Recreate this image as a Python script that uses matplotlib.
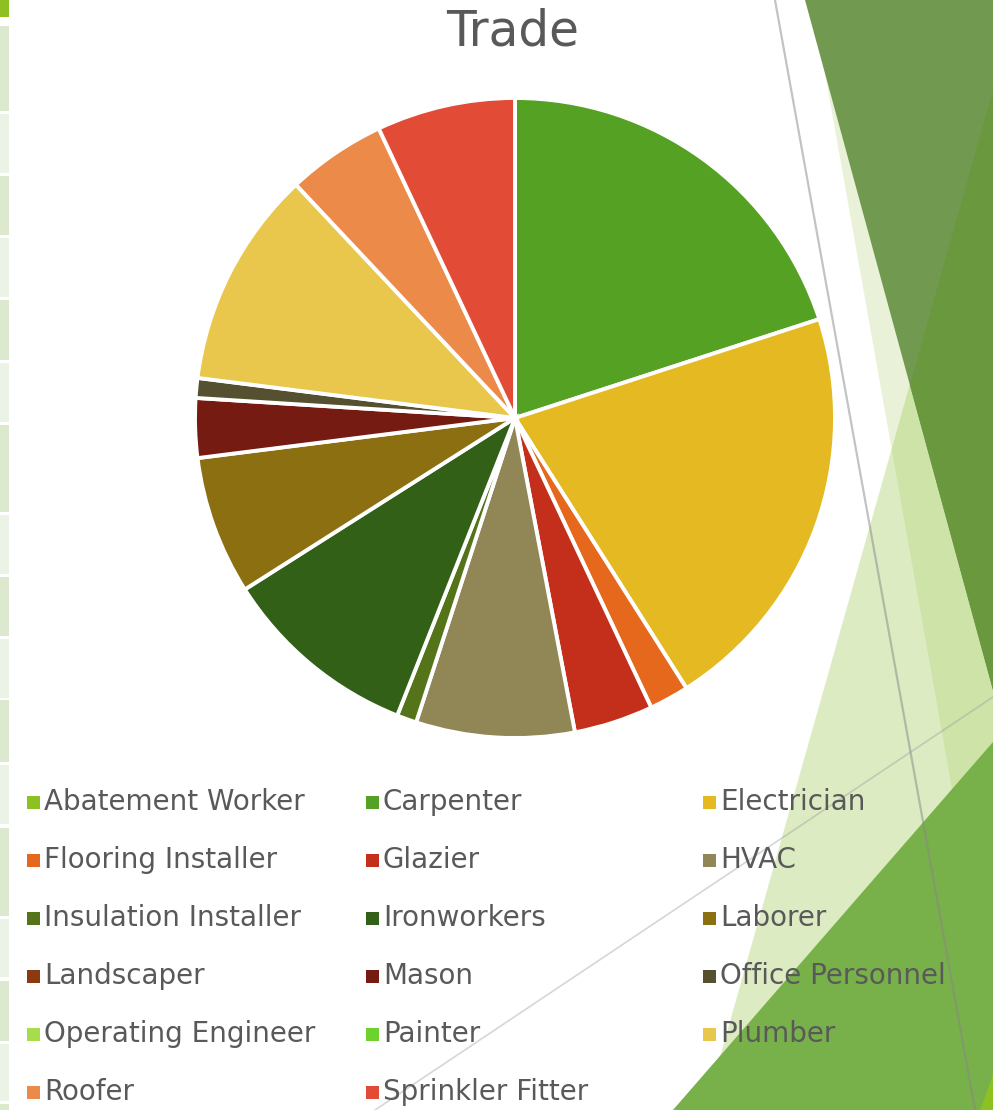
import matplotlib
matplotlib.use("Agg")
import matplotlib.pyplot as plt
from matplotlib.patches import Polygon, Rectangle
from matplotlib.lines import Line2D

# Trade counts, in legend order
trades = ['Abatement Worker', 'Carpenter', 'Electrician',
          'Flooring Installer', 'Glazier', 'HVAC',
          'Insulation Installer', 'Ironworkers', 'Laborer',
          'Landscaper', 'Mason', 'Office Personnel',
          'Operating Engineer', 'Painter', 'Plumber',
          'Roofer', 'Sprinkler Fitter']
counts = [0, 20, 21,
          2, 4, 8,
          1, 10, 7,
          0, 3, 1,
          0, 0, 11,
          5, 7]
colors = ['#8DC021', '#55A124', '#E4B921',
          '#E5681D', '#C32F1A', '#918655',
          '#55741A', '#326016', '#8B6F10',
          '#8A3A10', '#761B12', '#55502F',
          '#A7DC4A', '#6DD12E', '#E9C74D',
          '#EC8A4A', '#E24B35']

W, H = 993, 1110
fig = plt.figure(figsize=(W / 100, H / 100), dpi=100)
fig.patch.set_facecolor('white')


def px(pts):
    # pixel coords (y down) -> figure fraction
    return [(x / W, 1 - y / H) for x, y in pts]


def poly(pts, color, alpha=1.0, z=0):
    fig.patches.append(Polygon(px(pts), closed=True, facecolor=color, edgecolor='none',
                               alpha=alpha, transform=fig.transFigure, zorder=z))


# background decoration (slide theme)
poly([(812, 0), (993, 0), (993, 1020)], '#9BC850', 0.22)
poly([(993, 90), (705, 1110), (993, 1110)], '#9BC850', 0.35)
poly([(805, 0), (993, 0), (993, 690)], '#71994F')
poly([(993, 90), (910, 385), (993, 690)], '#6A983F')
poly([(673, 1110), (993, 742), (993, 1110)], '#78B04A')
poly([(980, 1110), (993, 1075), (993, 1110)], '#8DC021')
fig.lines.append(Line2D([775 / W, 975 / W], [1, 1 - 1110 / H], color='#888888', alpha=0.5,
                        lw=1.6, transform=fig.transFigure))
fig.lines.append(Line2D([375 / W, 993 / W], [1 - 1110 / H, 1 - 697 / H], color='#999999', alpha=0.4,
                        lw=1.2, transform=fig.transFigure))

# left strip
fig.patches.append(Rectangle((0, 1 - 17 / H), 9 / W, 17 / H, facecolor='#8DC021',
                             edgecolor='none', transform=fig.transFigure))
cells = [(26, 111), (114, 173), (176, 235), (238, 297), (300, 360), (363, 422),
         (425, 512), (515, 574), (577, 636), (639, 698), (700, 762), (765, 824),
         (828, 916), (919, 977), (981, 1041), (1044, 1101), (1104, 1110)]
for k, (y0, y1) in enumerate(cells):
    c = '#DCE9CF' if k % 2 == 0 else '#EBF2E6'
    fig.patches.append(Rectangle((0, 1 - y1 / H), 9 / W, (y1 - y0) / H, facecolor=c,
                                 edgecolor='none', transform=fig.transFigure))

# pie
cx, cy, r = 515, 418, 320
ax = fig.add_axes([(cx - r) / W, 1 - (cy + r) / H, 2 * r / W, 2 * r / H])
vals = [v for v in counts if v > 0]
cols = [c for v, c in zip(counts, colors) if v > 0]
ax.pie(vals, colors=cols, startangle=90, counterclock=False,
       wedgeprops=dict(edgecolor='white', linewidth=2.8))
ax.set_xlim(-1, 1)
ax.set_ylim(-1, 1)
ax.set_aspect('equal')
ax.axis('off')

fig.text(513 / W, 1 - 31 / H, 'Trade', ha='center', va='center', fontsize=35,
         color='#595959', family='DejaVu Sans')

# legend, 3 columns, row-major
col_x = [27, 366, 703]
row_y0, row_dy = 802, 58
sq = 13
for i, (name, c) in enumerate(zip(trades, colors)):
    row, col = divmod(i, 3)
    x = col_x[col]
    y = row_y0 + row * row_dy
    fig.patches.append(Rectangle((x / W, 1 - (y + sq / 2) / H), sq / W, sq / H,
                                 facecolor=c, edgecolor='none', transform=fig.transFigure))
    fig.text((x + 17) / W, 1 - y / H, name, ha='left', va='center', fontsize=20,
             color='#595959', family='DejaVu Sans')

fig.savefig('out.png', dpi=100, facecolor='white')
